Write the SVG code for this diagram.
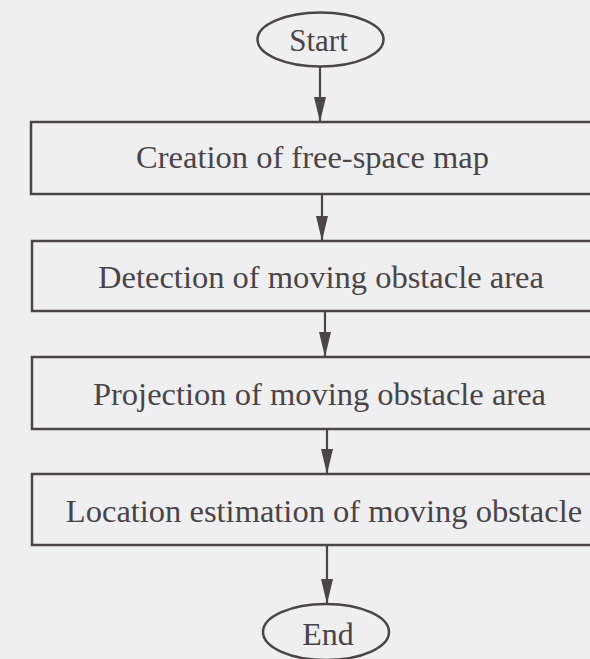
<svg xmlns="http://www.w3.org/2000/svg" width="590" height="659" viewBox="0 0 590 659">
<style>
.bg{fill:#efeff1}
.shape{fill:none;stroke:#4b4448;stroke-width:2.5}
.lbl{font-family:"Liberation Serif","Times New Roman",serif;font-size:32.5px;fill:#4a4448;text-anchor:middle}
.conn{stroke:#4b4448;stroke-width:2.2;fill:none}
</style>
<defs>
<marker id="ah" markerUnits="userSpaceOnUse" markerWidth="26" markerHeight="13" refX="25" refY="6" orient="auto">
<path d="M0,0 L25,6 L0,12 z" fill="#4b4448"/>
</marker>
</defs>
<rect class="bg" x="0" y="0" width="590" height="659"/>
<g id="connectors">
<line class="conn" x1="320" y1="67" x2="320" y2="122" marker-end="url(#ah)"/>
<line class="conn" x1="322" y1="195" x2="322" y2="241" marker-end="url(#ah)"/>
<line class="conn" x1="325" y1="311" x2="325" y2="357" marker-end="url(#ah)"/>
<line class="conn" x1="327" y1="430" x2="327" y2="474" marker-end="url(#ah)"/>
<line class="conn" x1="327" y1="546" x2="327" y2="604" marker-end="url(#ah)"/>
</g>
<g id="start">
<ellipse class="shape" cx="320.5" cy="39.5" rx="63" ry="27"/>
<text class="lbl" x="318.5" y="51" style="font-size:31px">Start</text>
</g>
<g id="creation">
<rect class="shape" x="31" y="122" width="600" height="72"/>
<text class="lbl" x="312.5" y="168">Creation of free-space map</text>
</g>
<g id="detection">
<rect class="shape" x="32" y="241" width="600" height="70"/>
<text class="lbl" x="321" y="288">Detection of moving obstacle area</text>
</g>
<g id="projection">
<rect class="shape" x="32" y="357" width="600" height="72"/>
<text class="lbl" x="319.5" y="405">Projection of moving obstacle area</text>
</g>
<g id="location">
<rect class="shape" x="32" y="474" width="600" height="71"/>
<text class="lbl" x="324" y="522">Location estimation of moving obstacle</text>
</g>
<g id="end">
<ellipse class="shape" cx="326" cy="632" rx="63" ry="28"/>
<text class="lbl" x="328" y="645" style="font-size:32px">End</text>
</g>
</svg>
